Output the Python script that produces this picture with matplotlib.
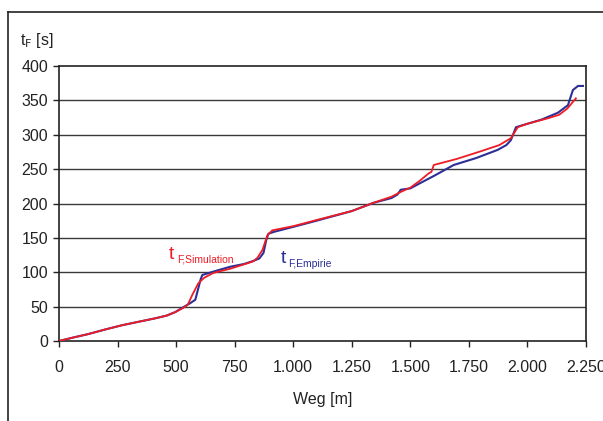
import matplotlib
matplotlib.use('Agg')
import matplotlib.pyplot as plt
from matplotlib.lines import Line2D
from matplotlib.ticker import FuncFormatter

plt.rcParams['font.family'] = ['Liberation Sans', 'DejaVu Sans']

# Empirie (blau)
weg_emp = [0, 60, 124, 200, 270, 340, 411, 460, 496, 530, 560, 582, 595, 605, 612,
           660, 731, 790, 826, 855, 873, 885, 894, 920, 1000, 1100, 1250, 1343,
           1420, 1445, 1459, 1500, 1544, 1600, 1685, 1780, 1873, 1910, 1929, 1951,
           2000, 2060, 2130, 2173, 2194, 2216, 2237]
t_emp = [0, 5, 10, 17, 23, 28, 33, 37, 42, 49, 55, 60, 77, 90, 96,
         101, 108, 112, 116, 120, 128, 147, 156, 159, 166, 175, 189, 201,
         208, 213, 220, 222, 230, 240, 256, 266, 278, 285, 292, 311,
         316, 322, 332, 343, 365, 371, 371]

# Simulation (rot)
weg_sim = [0, 60, 124, 200, 270, 340, 411, 460, 496, 530, 550, 569, 595, 620,
           659, 730, 804, 830, 847, 868, 890, 911, 1000, 1100, 1250, 1343, 1420,
           1460, 1500, 1540, 1579, 1590, 1600, 1700, 1801, 1880, 1929, 1959, 2000,
           2088, 2135, 2170, 2207]
t_sim = [0, 5, 10, 17, 23, 28, 33, 37, 42, 48, 53, 67, 84, 92,
         99, 105, 113, 116, 121, 132, 154, 161, 167, 176, 189, 201, 210,
         217, 223, 233, 244, 246, 256, 265, 276, 285, 295, 311, 316,
         324, 329, 338, 353]

y_ticks = [0, 50, 100, 150, 200, 250, 300, 350, 400]
x_ticks = [0, 250, 500, 750, 1000, 1250, 1500, 1750, 2000, 2250]

fig = plt.figure(figsize=(6.03, 4.21), dpi=100)
ax = fig.add_axes([59 / 603, 80 / 421, 527 / 603, 275 / 421])

for y in y_ticks[1:-1]:
    ax.axhline(y, color='#3a3a3a', lw=1.0, zorder=1)

ax.plot(weg_emp, t_emp, color='#2b2f96', lw=1.5, zorder=3)
ax.plot(weg_sim, t_sim, color='#ee1c25', lw=1.3, zorder=4)

ax.set_xlim(0, 2250)
ax.set_ylim(0, 400)
ax.set_xticks(x_ticks)
ax.set_yticks(y_ticks)
ax.xaxis.set_major_formatter(FuncFormatter(lambda v, p: f'{int(v):,}'.replace(',', '.')))
ax.tick_params(direction='out', length=4, width=1, labelsize=11.5, colors='#222222',
               labelcolor='#222222', pad=4)
ax.tick_params(axis='x', pad=10)
for s in ax.spines.values():
    s.set_color('#222222')
    s.set_linewidth(1.2)

ax.set_xlabel('Weg [m]', fontsize=11.5, color='#222222', labelpad=12)

fig.text(20 / 603, 1 - 40 / 421, r't$_{\mathrm{F}}$ [s]', fontsize=11.5, color='#222222',
         va='center', ha='left', math_fontfamily='dejavusans')

# Kurvenbeschriftungen
ax.text(470, 126, 't', color='#ee1c25', fontsize=14, ha='left', va='center')
ax.text(505, 118, 'F,Simulation', color='#ee1c25', fontsize=7.5, ha='left', va='center')
ax.text(945, 120, 't', color='#2b2f96', fontsize=14, ha='left', va='center')
ax.text(980, 112, 'F,Empirie', color='#2b2f96', fontsize=7.5, ha='left', va='center')

# äußerer Rahmen
fig.add_artist(Line2D([8 / 603, 1], [1 - 12 / 421, 1 - 12 / 421], color='#222222',
                      lw=1.2, transform=fig.transFigure))
fig.add_artist(Line2D([8 / 603, 8 / 603], [0, 1 - 12 / 421], color='#222222',
                      lw=1.2, transform=fig.transFigure))

fig.savefig('out.png', dpi=100)
